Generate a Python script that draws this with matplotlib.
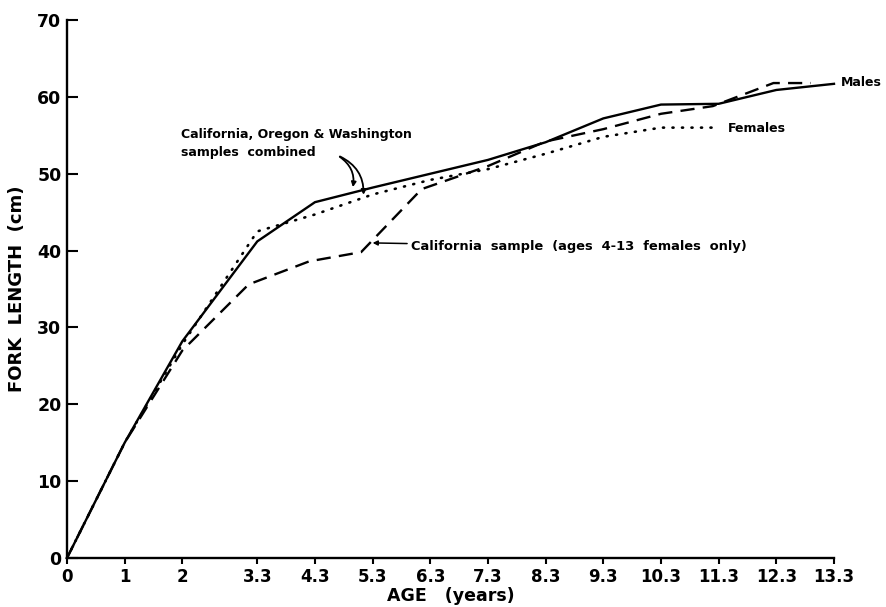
import matplotlib
matplotlib.use("Agg")
import matplotlib.pyplot as plt

# age ticks (years)
age_ticks = [0, 1, 2, 3.3, 4.3, 5.3, 6.3, 7.3, 8.3, 9.3, 10.3, 11.3, 12.3, 13.3]
age_labels = ["0", "1", "2", "3.3", "4.3", "5.3", "6.3", "7.3", "8.3", "9.3",
              "10.3", "11.3", "12.3", "13.3"]
length_ticks = [0, 10, 20, 30, 40, 50, 60, 70]

# combined samples, males
males_age = [0, 1, 2, 3.3, 4.3, 5.3, 6.3, 7.3, 8.3, 9.3, 10.3, 11.3, 12.3, 13.3]
males_len = [0, 15.0, 28.2, 41.2, 46.3, 48.2, 50.0, 51.8, 54.1, 57.2, 59.0, 59.1, 60.9, 61.7]

# combined samples, females
females_age = [0, 1, 2, 3.3, 4.3, 5.3, 6.3, 7.3, 8.3, 9.3, 10.3, 11.3]
females_len = [0, 15.0, 27.8, 42.5, 44.7, 47.3, 49.2, 50.6, 52.6, 54.8, 56.0, 56.0]

# California sample
calif_age = [0, 1, 2, 3.15, 4.2, 5.1, 6.15, 7.3, 8.3, 9.3, 10.3, 11.2, 12.25, 12.9]
calif_len = [0, 15.0, 27.0, 35.6, 38.6, 39.8, 48.0, 51.0, 54.2, 55.8, 57.8, 58.8, 61.8, 61.8]

font = "DejaVu Sans"

fig = plt.figure(figsize=(8.86, 6.07), dpi=100)
ax = fig.add_axes([0.0756, 0.0807, 0.8657, 0.8863])

ax.plot(males_age, males_len, color="black", lw=1.7, solid_joinstyle="round",
        clip_on=False)
ax.plot(females_age, females_len, color="black", lw=1.9,
        linestyle=(0, (0.4, 3.2)), dash_capstyle="round", clip_on=False)
ax.plot(calif_age, calif_len, color="black", lw=1.7,
        linestyle=(0, (6, 3.5)), clip_on=False)

ax.set_xlim(0, 13.3)
ax.set_ylim(0, 70)
ax.set_xticks(age_ticks)
ax.set_xticklabels(age_labels)
ax.set_yticks(length_ticks)

for side in ("top", "right"):
    ax.spines[side].set_visible(False)
for side in ("left", "bottom"):
    ax.spines[side].set_linewidth(1.7)

ax.tick_params(axis="y", direction="in", length=8, width=1.5, pad=4,
               labelsize=12.5)
ax.tick_params(axis="x", direction="out", length=4, width=1.5, pad=3,
               labelsize=12)
for lab in ax.get_xticklabels() + ax.get_yticklabels():
    lab.set_family(font)
    lab.set_fontweight("bold")

ax.set_xlabel("AGE   (years)", fontsize=12.5, family=font, fontweight="bold",
              labelpad=1)
ax.set_ylabel("FORK  LENGTH  (cm)", fontsize=13, family=font,
              fontweight="bold", labelpad=8)

# annotations
note = dict(fontsize=9.0, family=font, fontweight="bold")
ax.text(1.98, 53.95, "California, Oregon & Washington\nsamples  combined",
        va="center", ha="left", linespacing=1.5, **note)
ax.annotate("", xy=(4.95, 47.9), xytext=(4.69, 52.4),
            arrowprops=dict(arrowstyle="-|>", color="black", lw=1.3,
                            mutation_scale=7,
                            connectionstyle="arc3,rad=-0.35"))
ax.annotate("", xy=(5.14, 46.9), xytext=(4.69, 52.4),
            arrowprops=dict(arrowstyle="-|>", color="black", lw=1.3,
                            mutation_scale=7,
                            connectionstyle="arc3,rad=-0.35"))

ax.annotate("California  sample  (ages  4-13  females  only)", xy=(5.3, 41.0),
            xytext=(5.97, 40.5), va="center", ha="left",
            arrowprops=dict(arrowstyle="-|>", color="black", lw=1.1,
                            mutation_scale=7, shrinkA=1, shrinkB=0),
            **dict(note, fontsize=9.4))

ax.text(11.46, 55.9, "Females", va="center", ha="left", **note)
ax.text(13.42, 61.9, "Males", va="center", ha="left", clip_on=False, **note)

fig.savefig("out.png", dpi=100)
